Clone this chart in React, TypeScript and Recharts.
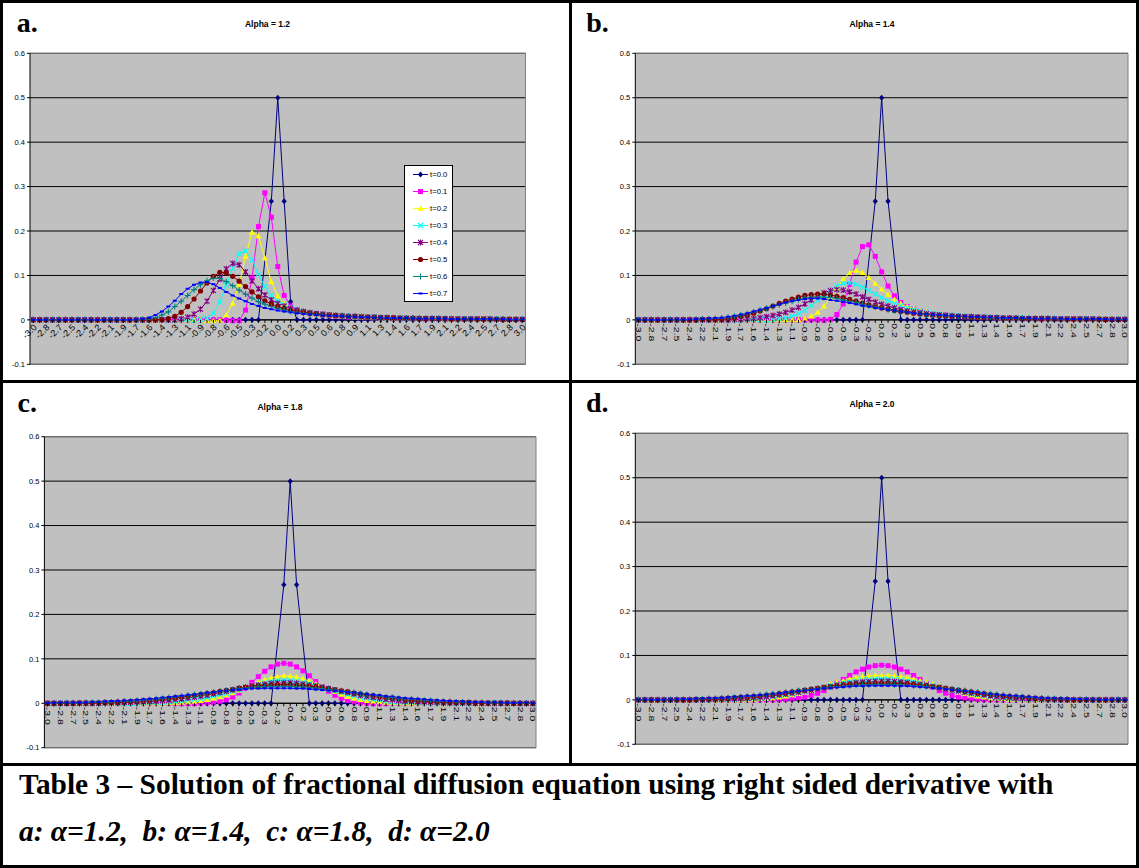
import React from 'react';
import { LineChart, Line, XAxis, YAxis, CartesianGrid, ReferenceLine, Legend } from 'recharts';

const SANS = 'Liberation Sans, Arial, sans-serif';
const SERIF = 'Liberation Serif, Times New Roman, serif';

const xCategories = [
  '-3.0','-2.9','-2.8','-2.8','-2.7','-2.6','-2.5','-2.4','-2.4','-2.3','-2.2',
  '-2.1','-2.1','-2.0','-1.9','-1.8','-1.7','-1.7','-1.6','-1.5','-1.4','-1.3',
  '-1.3','-1.2','-1.1','-1.0','-0.9','-0.9','-0.8','-0.7','-0.6','-0.6','-0.5',
  '-0.4','-0.3','-0.2','-0.2','-0.1','0.0','0.1','0.2','0.2','0.3','0.4',
  '0.5','0.6','0.6','0.7','0.8','0.9','0.9','1.0','1.1','1.2','1.3',
  '1.3','1.4','1.5','1.6','1.7','1.7','1.8','1.9','2.0','2.1','2.1',
  '2.2','2.3','2.4','2.4','2.5','2.6','2.7','2.8','2.8','2.9','3.0',
];
const yTicks = [-0.1, 0, 0.1, 0.2, 0.3, 0.4, 0.5, 0.6];
const seriesNames = ['t=0.0', 't=0.1', 't=0.2', 't=0.3', 't=0.4', 't=0.5', 't=0.6', 't=0.7'];
const seriesColors = ['#000080', '#FF00FF', '#FFFF00', '#00FFFF', '#800080', '#800000', '#008080', '#0000FF'];
const markerKinds = ['diamond', 'square', 'triangle', 'x', 'star', 'circle', 'plus', 'dash'];

// ---------- Alpha = 1.2 ----------
const a12_t00 = [
  0,0,0,0,0,0,0,0,0,0,0,
  0,0,0,0,0,0,0,0,0,0,0,
  0,0,0,0,0,0,0,0,0,0,0,
  0,0,0,null,0.267,0.5,0.267,0.041,0,0,0,
  0,0,0,0,0,0,0,0,0,0,0,
  0,0,0,0,0,0,0,0,0,0,0,
  0,0,0,0,0,0,0,0,0,0,0,
];
const a12_t01 = [
  0,0,0,0,0,0,0,0,0,0,0,
  0,0,0,0,0,0,0,0,0,0,0,
  0,0,0,0,0,0,0,0,-0.001,-0.002,-0.002,
  0.022,0.094,0.21,0.286,0.231,0.12,0.055,0.031,0.022,0.017,0.014,
  0.012,0.01,0.009,0.008,0.007,0.006,0.006,0.005,0.005,0.004,0.004,
  0.004,0.003,0.003,0.003,0.003,0.003,0.002,0.002,0.002,0.002,0.002,
  0.002,0.002,0.002,0.002,0.001,0.001,0.001,0.001,0.001,0.001,0.001,
];
const a12_t02 = [
  0,0,0,0,0,0,0,0,0,0,0,
  0,0,0,0,0,0,0,0,0,0,0,
  0,0,0,0,0,-0.002,-0.002,-0.001,0.011,0.037,0.079,
  0.143,0.197,0.189,0.139,0.086,0.054,0.036,0.027,0.021,0.017,0.014,
  0.012,0.011,0.01,0.009,0.008,0.007,0.006,0.006,0.005,0.005,0.004,
  0.004,0.004,0.003,0.003,0.003,0.003,0.003,0.002,0.002,0.002,0.002,
  0.002,0.002,0.002,0.002,0.002,0.001,0.001,0.001,0.001,0.001,0.001,
];
const a12_t03 = [
  0,0,0,0,0,0,0,0,0,0,0,
  0,0,0,0,0,0,0,0,0,0,0,
  0,0,0,-0.001,0.001,0.004,0.015,0.04,0.078,0.116,0.149,
  0.155,0.135,0.103,0.075,0.055,0.042,0.034,0.028,0.023,0.019,0.016,
  0.014,0.012,0.011,0.01,0.009,0.008,0.007,0.006,0.006,0.005,0.005,
  0.004,0.004,0.004,0.003,0.003,0.003,0.003,0.003,0.002,0.002,0.002,
  0.002,0.002,0.002,0.002,0.002,0.001,0.001,0.001,0.001,0.001,0.001,
];
const a12_t04 = [
  0,0,0,0,0,0,0,0,0,0,0,
  0,0,0,0,0,0,0,0,0,0,0,
  0,0.002,0.006,0.013,0.024,0.042,0.066,0.092,0.115,0.127,0.124,
  0.108,0.088,0.07,0.056,0.045,0.037,0.031,0.026,0.022,0.019,0.016,
  0.014,0.013,0.011,0.01,0.009,0.008,0.008,0.007,0.006,0.006,0.005,
  0.005,0.004,0.004,0.004,0.003,0.003,0.003,0.003,0.003,0.002,0.002,
  0.002,0.002,0.002,0.002,0.002,0.002,0.001,0.001,0.001,0.001,0.001,
];
const a12_t05 = [
  0,0,0,0,0,0,0,0,0,0,0,
  0,0,0,0,0,0,0,0,0,0.001,0.003,
  0.008,0.017,0.03,0.047,0.065,0.083,0.098,0.107,0.106,0.098,0.087,
  0.075,0.063,0.052,0.043,0.036,0.03,0.026,0.022,0.019,0.017,0.015,
  0.014,0.012,0.011,0.01,0.009,0.008,0.008,0.007,0.006,0.006,0.005,
  0.005,0.005,0.004,0.004,0.004,0.003,0.003,0.003,0.003,0.003,0.002,
  0.002,0.002,0.002,0.002,0.002,0.002,0.002,0.001,0.001,0.001,0.001,
];
const a12_t06 = [
  0,0,0,0,0,0,0,0,0,0,0,
  0,0,0,0,0,0,0.001,0.002,0.005,0.011,0.018,
  0.03,0.042,0.055,0.068,0.079,0.088,0.094,0.093,0.086,0.077,0.067,
  0.058,0.049,0.041,0.035,0.03,0.026,0.022,0.019,0.017,0.015,0.013,
  0.012,0.011,0.01,0.009,0.009,0.008,0.007,0.007,0.006,0.006,0.005,
  0.005,0.005,0.004,0.004,0.004,0.004,0.003,0.003,0.003,0.003,0.003,
  0.002,0.002,0.002,0.002,0.002,0.002,0.002,0.002,0.001,0.001,0.001,
];
const a12_t07 = [
  0,0,0,0,0,0,0,0,0,0,0,
  0,0,0,0,0,0.001,0.002,0.005,0.011,0.019,0.03,
  0.043,0.058,0.07,0.079,0.084,0.085,0.08,0.072,0.063,0.055,0.048,
  0.042,0.036,0.031,0.027,0.024,0.021,0.019,0.017,0.015,0.013,0.012,
  0.011,0.01,0.009,0.009,0.008,0.007,0.007,0.006,0.006,0.005,0.005,
  0.004,0.004,0.004,0.004,0.003,0.003,0.003,0.003,0.003,0.003,0.002,
  0.002,0.002,0.002,0.002,0.002,0.002,0.002,0.002,0.001,0.001,0.001,
];

// ---------- Alpha = 1.4 ----------
const a14_t00 = [
  0,0,0,0,0,0,0,0,0,0,0,
  0,0,0,0,0,0,0,0,0,0,0,
  0,0,0,0,0,0,0,0,0,0,0,
  0,0,0,null,0.267,0.5,0.267,null,0,0,0,
  0,0,0,0,0,0,0,0,0,0,0,
  0,0,0,0,0,0,0,0,0,0,0,
  0,0,0,0,0,0,0,0,0,0,0,
];
const a14_t01 = [
  0,0,0,0,0,0,0,0,0,0,0,
  0,0,0,0,0,0,0,0,0,0,0,
  0,0,0,0,0,0,0,-0.001,0.001,0.012,0.036,
  0.08,0.13,0.165,0.169,0.143,0.108,0.076,0.054,0.039,0.03,0.024,
  0.02,0.017,0.014,0.012,0.011,0.009,0.008,0.007,0.007,0.006,0.005,
  0.005,0.004,0.004,0.004,0.003,0.003,0.003,0.003,0.002,0.002,0.002,
  0.002,0.002,0.002,0.002,0.001,0.001,0.001,0.001,0.001,0.001,0.001,
];
const a14_t02 = [
  0,0,0,0,0,0,0,0,0,0,0,
  0,0,0,0,0,0,0,0,0,0,0,
  0,0,0,0,0.003,0.008,0.017,0.031,0.05,0.072,0.092,
  0.106,0.111,0.106,0.095,0.082,0.069,0.057,0.046,0.037,0.03,0.025,
  0.021,0.018,0.015,0.013,0.011,0.01,0.009,0.008,0.007,0.006,0.006,
  0.005,0.005,0.004,0.004,0.004,0.003,0.003,0.003,0.003,0.002,0.002,
  0.002,0.002,0.002,0.002,0.002,0.001,0.001,0.001,0.001,0.001,0.001,
];
const a14_t03 = [
  0,0,0,0,0,0,0,0,0,0,0,
  0,0,0,0,0,0,0,0,0,0,0.001,
  0.002,0.004,0.008,0.014,0.022,0.032,0.044,0.056,0.067,0.076,0.082,
  0.083,0.08,0.074,0.066,0.058,0.05,0.043,0.037,0.032,0.027,0.023,
  0.02,0.017,0.015,0.013,0.011,0.01,0.009,0.008,0.007,0.007,0.006,
  0.005,0.005,0.005,0.004,0.004,0.004,0.003,0.003,0.003,0.003,0.002,
  0.002,0.002,0.002,0.002,0.002,0.002,0.001,0.001,0.001,0.001,0.001,
];
const a14_t04 = [
  0,0,0,0,0,0,0,0,0,0,0,
  0,0,0,0,0.001,0.001,0.002,0.003,0.005,0.007,0.01,
  0.013,0.017,0.022,0.028,0.036,0.045,0.054,0.061,0.066,0.068,0.067,
  0.063,0.058,0.052,0.046,0.04,0.035,0.031,0.027,0.023,0.02,0.018,
  0.016,0.014,0.012,0.011,0.01,0.009,0.008,0.007,0.007,0.006,0.006,
  0.005,0.005,0.004,0.004,0.004,0.003,0.003,0.003,0.003,0.003,0.002,
  0.002,0.002,0.002,0.002,0.002,0.002,0.001,0.001,0.001,0.001,0.001,
];
const a14_t05 = [
  0,0,0,0,0,0,0,0,0,0,0.001,
  0.001,0.001,0.002,0.003,0.005,0.008,0.011,0.015,0.02,0.025,0.031,
  0.037,0.042,0.047,0.051,0.055,0.057,0.058,0.058,0.056,0.053,0.05,
  0.046,0.042,0.038,0.034,0.03,0.027,0.024,0.021,0.019,0.017,0.015,
  0.013,0.012,0.011,0.01,0.009,0.008,0.008,0.007,0.006,0.006,0.005,
  0.005,0.005,0.004,0.004,0.004,0.003,0.003,0.003,0.003,0.003,0.002,
  0.002,0.002,0.002,0.002,0.002,0.002,0.002,0.001,0.001,0.001,0.001,
];
const a14_t06 = [
  0,0,0,0,0,0,0,0,0.001,0.001,0.002,
  0.002,0.003,0.004,0.006,0.008,0.011,0.014,0.018,0.022,0.026,0.03,
  0.034,0.038,0.042,0.046,0.049,0.051,0.052,0.051,0.05,0.048,0.045,
  0.042,0.039,0.035,0.032,0.029,0.026,0.023,0.021,0.019,0.017,0.015,
  0.013,0.012,0.011,0.01,0.009,0.009,0.008,0.007,0.007,0.006,0.006,
  0.005,0.005,0.004,0.004,0.004,0.004,0.003,0.003,0.003,0.003,0.003,
  0.002,0.002,0.002,0.002,0.002,0.002,0.002,0.002,0.001,0.001,0.001,
];
const a14_t07 = [
  0,0,0,0,0,0,0.001,0.001,0.001,0.002,0.002,
  0.003,0.004,0.005,0.007,0.009,0.012,0.015,0.019,0.023,0.027,0.031,
  0.035,0.039,0.042,0.045,0.047,0.048,0.048,0.047,0.045,0.043,0.041,
  0.038,0.035,0.032,0.03,0.027,0.025,0.023,0.021,0.019,0.017,0.015,
  0.014,0.013,0.012,0.011,0.01,0.009,0.008,0.008,0.007,0.007,0.006,
  0.006,0.005,0.005,0.005,0.004,0.004,0.004,0.003,0.003,0.003,0.003,
  0.003,0.002,0.002,0.002,0.002,0.002,0.002,0.002,0.001,0.001,0.001,
];

// ---------- Alpha = 1.8 ----------
const a18_t00 = [
  0,0,0,0,0,0,0,0,0,0,0,
  0,0,0,0,0,0,0,0,0,0,0,
  0,0,0,0,0,0,0,0,0,0,0,
  0,0,0,null,0.267,0.5,0.267,null,0,0,0,
  0,0,0,0,0,0,0,0,0,0,0,
  0,0,0,0,0,0,0,0,0,0,0,
  0,0,0,0,0,0,0,0,0,0,0,
];
const a18_t01 = [
  0,0,0,0,0,0,0,0,0,0,0,
  0,0,0,0,0,0,0,0,0,-0.001,-0.001,
  -0.001,-0.001,0,0.001,0.002,0.004,0.008,0.014,0.023,0.034,0.047,
  0.06,0.072,0.082,0.088,0.09,0.088,0.082,0.073,0.062,0.049,0.037,
  0.027,0.018,0.011,0.006,0.003,0.001,0,-0.001,-0.001,-0.001,0,
  0,0,0,0,0,0,0,0,0,0,0,
  0,0,0,0,0,0,0,0,0,0,0,
];
const a18_t02 = [
  0,0,0,0,0,0,0,0,0,0,0,
  0,0,0,0,0,0,0,0,0.001,0.001,0.002,
  0.003,0.004,0.006,0.008,0.011,0.014,0.018,0.023,0.029,0.035,0.041,
  0.047,0.053,0.057,0.06,0.062,0.061,0.059,0.055,0.05,0.044,0.038,
  0.032,0.026,0.02,0.015,0.011,0.008,0.006,0.004,0.003,0.002,0.001,
  0.001,0,0,0,0,0,0,0,0,0,0,
  0,0,0,0,0,0,0,0,0,0,0,
];
const a18_t03 = [
  0,0,0,0,0,0,0,0,0,0,0,
  0,0,0,0,0.001,0.001,0.002,0.002,0.003,0.004,0.005,
  0.007,0.008,0.01,0.013,0.016,0.019,0.022,0.026,0.03,0.034,0.038,
  0.042,0.046,0.049,0.051,0.052,0.051,0.05,0.047,0.044,0.04,0.036,
  0.032,0.028,0.024,0.02,0.016,0.013,0.011,0.009,0.007,0.005,0.004,
  0.003,0.002,0.002,0.001,0.001,0.001,0,0,0,0,0,
  0,0,0,0,0,0,0,0,0,0,0,
];
const a18_t04 = [
  0,0,0,0,0,0,0,0,0,0.001,0.001,
  0.001,0.002,0.002,0.003,0.003,0.004,0.005,0.006,0.007,0.009,0.01,
  0.012,0.014,0.016,0.018,0.021,0.024,0.027,0.03,0.033,0.036,0.039,
  0.041,0.043,0.045,0.046,0.046,0.046,0.045,0.043,0.041,0.039,0.036,
  0.033,0.03,0.027,0.024,0.021,0.018,0.015,0.013,0.011,0.009,0.008,
  0.006,0.005,0.004,0.003,0.003,0.002,0.002,0.001,0.001,0.001,0.001,
  0.001,0,0,0,0,0,0,0,0,0,0,
];
const a18_t05 = [
  0,0,0,0,0,0.001,0.001,0.001,0.001,0.002,0.002,
  0.003,0.003,0.004,0.005,0.006,0.007,0.008,0.009,0.011,0.012,0.014,
  0.016,0.018,0.02,0.022,0.024,0.027,0.029,0.031,0.034,0.036,0.038,
  0.039,0.04,0.041,0.042,0.042,0.042,0.041,0.04,0.038,0.037,0.035,
  0.033,0.031,0.028,0.026,0.023,0.021,0.019,0.017,0.015,0.013,0.011,
  0.01,0.008,0.007,0.006,0.005,0.004,0.004,0.003,0.003,0.002,0.002,
  0.002,0.001,0.001,0.001,0.001,0.001,0.001,0,0,0,0,
];
const a18_t06 = [
  0,0,0,0.001,0.001,0.001,0.002,0.002,0.002,0.003,0.003,
  0.004,0.005,0.005,0.006,0.007,0.008,0.01,0.011,0.013,0.014,0.016,
  0.018,0.02,0.021,0.023,0.025,0.027,0.029,0.031,0.033,0.034,0.036,
  0.037,0.037,0.038,0.038,0.038,0.038,0.037,0.037,0.036,0.034,0.033,
  0.031,0.03,0.028,0.026,0.024,0.022,0.02,0.018,0.016,0.014,0.013,
  0.011,0.01,0.009,0.008,0.007,0.006,0.005,0.004,0.004,0.003,0.003,
  0.002,0.002,0.002,0.001,0.001,0.001,0.001,0.001,0,0,0,
];
const a18_t07 = [
  0,0.001,0.001,0.001,0.002,0.002,0.002,0.003,0.003,0.004,0.005,
  0.005,0.006,0.007,0.008,0.009,0.01,0.011,0.013,0.014,0.016,0.017,
  0.019,0.02,0.022,0.024,0.025,0.027,0.028,0.03,0.031,0.032,0.033,
  0.033,0.034,0.034,0.034,0.034,0.034,0.033,0.033,0.032,0.031,0.03,
  0.029,0.028,0.027,0.025,0.024,0.022,0.021,0.019,0.018,0.016,0.015,
  0.013,0.012,0.011,0.01,0.009,0.008,0.007,0.006,0.005,0.005,0.004,
  0.003,0.003,0.003,0.002,0.002,0.002,0.001,0.001,0.001,0.001,0,
];

// ---------- Alpha = 2.0 ----------
const a20_t00 = [
  0,0,0,0,0,0,0,0,0,0,0,
  0,0,0,0,0,0,0,0,0,0,0,
  0,0,0,0,0,0,0,0,0,0,0,
  0,0,0,null,0.267,0.5,0.267,null,0,0,0,
  0,0,0,0,0,0,0,0,0,0,0,
  0,0,0,0,0,0,0,0,0,0,0,
  0,0,0,0,0,0,0,0,0,0,0,
];
const a20_t01 = [
  0,0,0,0,0,0,0,0,0,0,0,
  0,0,0,0,0,0,0,0,0,0,0,
  0,0.001,0.002,0.004,0.006,0.01,0.015,0.021,0.029,0.037,0.046,
  0.055,0.063,0.069,0.074,0.077,0.078,0.077,0.074,0.069,0.063,0.055,
  0.046,0.037,0.029,0.021,0.015,0.01,0.006,0.004,0.002,0.001,0,
  0,0,0,0,0,0,0,0,0,0,0,
  0,0,0,0,0,0,0,0,0,0,0,
];
const a20_t02 = [
  0,0,0,0,0,0,0,0,0,0,0,
  0,0,0,0,0,0,0.001,0.001,0.002,0.003,0.004,
  0.006,0.008,0.011,0.014,0.018,0.022,0.026,0.031,0.035,0.039,0.043,
  0.047,0.05,0.052,0.054,0.055,0.055,0.055,0.054,0.052,0.05,0.047,
  0.043,0.039,0.035,0.031,0.026,0.022,0.018,0.014,0.011,0.008,0.006,
  0.004,0.003,0.002,0.001,0.001,0,0,0,0,0,0,
  0,0,0,0,0,0,0,0,0,0,0,
];
const a20_t03 = [
  0,0,0,0,0,0,0,0,0,0,0,
  0,0,0,0.001,0.001,0.002,0.002,0.003,0.004,0.005,0.007,
  0.009,0.011,0.013,0.016,0.019,0.022,0.025,0.029,0.032,0.035,0.038,
  0.041,0.043,0.045,0.046,0.047,0.047,0.047,0.046,0.045,0.043,0.041,
  0.038,0.035,0.032,0.029,0.025,0.022,0.019,0.016,0.013,0.011,0.009,
  0.007,0.005,0.004,0.003,0.002,0.002,0.001,0.001,0,0,0,
  0,0,0,0,0,0,0,0,0,0,0,
];
const a20_t04 = [
  0,0,0,0,0,0,0,0,0,0,0,
  0.001,0.001,0.001,0.002,0.002,0.003,0.004,0.005,0.006,0.007,0.009,
  0.011,0.013,0.015,0.017,0.02,0.022,0.025,0.028,0.03,0.033,0.035,
  0.037,0.039,0.04,0.041,0.042,0.042,0.042,0.041,0.04,0.039,0.037,
  0.035,0.033,0.03,0.028,0.025,0.022,0.02,0.017,0.015,0.013,0.011,
  0.009,0.007,0.006,0.005,0.004,0.003,0.002,0.002,0.001,0.001,0.001,
  0,0,0,0,0,0,0,0,0,0,0,
];
const a20_t05 = [
  0,0,0,0,0,0,0,0,0,0.001,0.001,
  0.002,0.002,0.003,0.004,0.005,0.006,0.007,0.008,0.009,0.011,0.012,
  0.014,0.016,0.018,0.02,0.022,0.024,0.026,0.028,0.03,0.032,0.033,
  0.035,0.036,0.037,0.037,0.038,0.038,0.038,0.037,0.037,0.036,0.035,
  0.033,0.032,0.03,0.028,0.026,0.024,0.022,0.02,0.018,0.016,0.014,
  0.012,0.011,0.009,0.008,0.007,0.006,0.005,0.004,0.003,0.002,0.002,
  0.001,0.001,0,0,0,0,0,0,0,0,0,
];
const a20_t06 = [
  0,0,0,0,0,0,0.001,0.001,0.001,0.002,0.002,
  0.003,0.003,0.004,0.005,0.006,0.007,0.008,0.009,0.011,0.012,0.014,
  0.015,0.017,0.019,0.021,0.022,0.024,0.026,0.027,0.029,0.03,0.031,
  0.032,0.033,0.034,0.034,0.035,0.035,0.035,0.034,0.034,0.033,0.032,
  0.031,0.03,0.029,0.027,0.026,0.024,0.022,0.021,0.019,0.017,0.015,
  0.014,0.012,0.011,0.009,0.008,0.007,0.006,0.005,0.004,0.003,0.003,
  0.002,0.002,0.001,0.001,0.001,0,0,0,0,0,0,
];
const a20_t07 = [
  0,0.001,0.001,0.001,0.001,0.001,0.002,0.002,0.002,0.003,0.003,
  0.004,0.004,0.005,0.006,0.007,0.008,0.009,0.01,0.011,0.012,0.014,
  0.015,0.017,0.018,0.02,0.021,0.023,0.024,0.026,0.027,0.028,0.029,
  0.03,0.031,0.031,0.032,0.032,0.032,0.032,0.032,0.031,0.031,0.03,
  0.029,0.028,0.027,0.026,0.024,0.023,0.021,0.02,0.018,0.017,0.015,
  0.014,0.012,0.011,0.01,0.009,0.008,0.007,0.006,0.005,0.004,0.004,
  0.003,0.003,0.002,0.002,0.002,0.001,0.001,0.001,0.001,0.001,0,
];

const Y_MIN = -0.1;
const Y_MAX = 0.6;
const X_AXIS_H = 1;

type Val = number | null;

const buildRows = (series: Val[][]) =>
  xCategories.map((x, i) => {
    const row: Record<string, any> = { i, x };
    series.forEach((s, k) => {
      row['s' + k] = s[i];
    });
    return row;
  });

function Marker({ cx, cy, kind, color }: any) {
  if (cx == null || cy == null || Number.isNaN(cx) || Number.isNaN(cy)) return null;
  switch (kind) {
    case 'diamond':
      return <path d={`M${cx} ${cy - 3}L${cx + 2.6} ${cy}L${cx} ${cy + 3}L${cx - 2.6} ${cy}Z`} fill={color} />;
    case 'square':
      return <rect x={cx - 2.5} y={cy - 2.5} width={5} height={5} fill={color} />;
    case 'triangle':
      return <path d={`M${cx} ${cy - 3}L${cx + 3} ${cy + 2.3}L${cx - 3} ${cy + 2.3}Z`} fill={color} />;
    case 'x':
      return (
        <path
          d={`M${cx - 2.5} ${cy - 2.5}L${cx + 2.5} ${cy + 2.5}M${cx - 2.5} ${cy + 2.5}L${cx + 2.5} ${cy - 2.5}`}
          stroke={color}
          strokeWidth={1.1}
          fill="none"
        />
      );
    case 'star':
      return (
        <path
          d={`M${cx - 2.5} ${cy - 2.5}L${cx + 2.5} ${cy + 2.5}M${cx - 2.5} ${cy + 2.5}L${cx + 2.5} ${cy - 2.5}M${cx} ${cy - 3}L${cx} ${cy + 3}`}
          stroke={color}
          strokeWidth={1.1}
          fill="none"
        />
      );
    case 'circle':
      return <circle cx={cx} cy={cy} r={2.6} fill={color} />;
    case 'plus':
      return (
        <path d={`M${cx - 3} ${cy}L${cx + 3} ${cy}M${cx} ${cy - 3}L${cx} ${cy + 3}`} stroke={color} strokeWidth={1.1} fill="none" />
      );
    default:
      return <path d={`M${cx - 2} ${cy}L${cx + 2} ${cy}`} stroke={color} strokeWidth={2} fill="none" />;
  }
}

const renderDot = (k: number) => (p: any) => (
  <g key={`dot-${k}-${p.index}`}>
    <Marker cx={p.cx} cy={p.cy} kind={markerKinds[k]} color={seriesColors[k]} />
  </g>
);

function XTick(props: any) {
  const { x, y, payload, index, zeroShift, rotate } = props;
  const y0 = y - zeroShift;
  const idx = payload && typeof payload.value === 'number' ? payload.value : index;
  const label = xCategories[idx];
  let text = null;
  if (idx % 2 === 0) {
    if (rotate === -45) {
      const ax = x + 2;
      const ay = y0 + 6;
      text = (
        <text x={0} y={0} transform={`translate(${ax} ${ay}) rotate(-45) scale(1.15 1.1)`} textAnchor="end" dominantBaseline="central"
          fontSize={8} fontFamily={SANS} fill="#000">{label}</text>
      );
    } else {
      const ax = x;
      const ay = y0 + 3.5;
      text = (
        <text x={0} y={0} transform={`translate(${ax} ${ay}) rotate(90) scale(1.4 1)`} textAnchor="start" dominantBaseline="central"
          fontSize={7.5} fontFamily={SANS} fill="#000">{label}</text>
      );
    }
  }
  return (
    <g>
      <line x1={x} x2={x} y1={y0} y2={y0 + 3} stroke="#000" strokeWidth={1} />
      {text}
    </g>
  );
}

const LegendBox = () => (
  <div style={{ width: 49, height: 137, border: '1px solid #000', background: '#fff', boxSizing: 'border-box' }}>
    {seriesNames.map((n, k) => (
      <div key={n} style={{ height: 17, display: 'flex', alignItems: 'center' }}>
        <svg width={24} height={17} style={{ display: 'block' }}>
          <line x1={8} x2={23} y1={8.5} y2={8.5} stroke={seriesColors[k]} strokeWidth={1} />
          <Marker cx={15.5} cy={8.5} kind={markerKinds[k]} color={seriesColors[k]} />
        </svg>
        <span style={{ fontSize: 7.7, fontFamily: SANS, color: '#000', marginLeft: 1, lineHeight: '17px' }}>{n}</span>
      </div>
    ))}
  </div>
);

const fmtY = (v: number) => (v === 0 ? '0' : v.toFixed(1));

type PanelCfg = {
  left: number;
  top: number;
  width: number;
  height: number;
  margin: { top: number; right: number; bottom: number; left: number };
  rotate: number;
  series: Val[][];
  legend?: boolean;
};

const panels: PanelCfg[] = [
  {
    left: 0, top: 0, width: 570, height: 380,
    margin: { top: 53.3, right: 44.5, bottom: 14.7, left: 0 },
    rotate: -45, legend: true,
    series: [a12_t00, a12_t01, a12_t02, a12_t03, a12_t04, a12_t05, a12_t06, a12_t07],
  },
  {
    left: 570, top: 0, width: 569, height: 380,
    margin: { top: 53.3, right: 11, bottom: 14.7, left: 35.3 },
    rotate: 90,
    series: [a14_t00, a14_t01, a14_t02, a14_t03, a14_t04, a14_t05, a14_t06, a14_t07],
  },
  {
    left: 0, top: 380, width: 570, height: 384,
    margin: { top: 56.7, right: 34, bottom: 15.3, left: 14.4 },
    rotate: 90,
    series: [a18_t00, a18_t01, a18_t02, a18_t03, a18_t04, a18_t05, a18_t06, a18_t07],
  },
  {
    left: 570, top: 380, width: 569, height: 384,
    margin: { top: 53.3, right: 11, bottom: 18.7, left: 35.3 },
    rotate: 90,
    series: [a20_t00, a20_t01, a20_t02, a20_t03, a20_t04, a20_t05, a20_t06, a20_t07],
  },
];

const titles = [
  { text: 'Alpha = 1.2', x: 267.5, y: 27 },
  { text: 'Alpha = 1.4', x: 872, y: 27 },
  { text: 'Alpha = 1.8', x: 280, y: 410 },
  { text: 'Alpha = 2.0', x: 872, y: 407 },
];
const letters = [
  { text: 'a.', x: 16.7, y: 31.7 },
  { text: 'b.', x: 586.3, y: 31.7 },
  { text: 'c.', x: 17.5, y: 411.7 },
  { text: 'd.', x: 586, y: 411.7 },
];
const captionLine1 = 'Table 3 \u2013 Solution of fractional diffusion equation using right sided derivative with';
const captionLine2 = 'a: \u03b1=1.2,  b: \u03b1=1.4,  c: \u03b1=1.8,  d: \u03b1=2.0';

// grey frame of the plot area on the right and top (Excel style)
const rightEdge = ({ offset }: any) => [offset.left + offset.width];
const topEdge = ({ offset }: any) => [offset.top];

function Panel({ cfg }: { cfg: PanelCfg }) {
  const data = buildRows(cfg.series);
  const plotH = cfg.height - cfg.margin.top - cfg.margin.bottom - X_AXIS_H;
  const zeroShift = (plotH * (0 - Y_MIN)) / (Y_MAX - Y_MIN);
  return (
    <div style={{ position: 'absolute', left: cfg.left, top: cfg.top, width: cfg.width, height: cfg.height }}>
      <LineChart width={cfg.width} height={cfg.height} data={data} margin={cfg.margin}>
        <CartesianGrid vertical={false} stroke="#000" strokeWidth={1} fill="#C0C0C0" fillOpacity={1} />
        <CartesianGrid
          stroke="#808080"
          strokeWidth={1}
          verticalCoordinatesGenerator={rightEdge}
          horizontalCoordinatesGenerator={topEdge}
        />
        <XAxis
          dataKey="i"
          type="category"
          scale="point"
          padding={{ left: 3.2, right: 3.2 }}
          interval={0}
          height={X_AXIS_H}
          tickSize={0}
          tickMargin={0}
          axisLine={{ stroke: '#808080' }}
          tickLine={false}
          tick={(p: any) => <XTick {...p} zeroShift={zeroShift} rotate={cfg.rotate} />}
        />
        <YAxis
          type="number"
          domain={[Y_MIN, Y_MAX]}
          ticks={yTicks}
          interval={0}
          allowDataOverflow
          width={30}
          tickSize={3}
          tickMargin={2}
          tickFormatter={fmtY}
          axisLine={{ stroke: '#000' }}
          tickLine={{ stroke: '#000' }}
          tick={{ fontSize: 7.5, fill: '#000', fontFamily: SANS }}
        />
        <ReferenceLine y={0} stroke="#000" strokeWidth={1} />
        {seriesNames.map((n, k) => (
          <Line
            key={n}
            type="linear"
            dataKey={'s' + k}
            name={n}
            stroke={seriesColors[k]}
            strokeWidth={1}
            dot={renderDot(k)}
            activeDot={false}
            connectNulls
            isAnimationActive={false}
          />
        ))}
        {cfg.legend && (
          <Legend
            layout="vertical"
            align="center"
            verticalAlign="middle"
            content={() => <LegendBox />}
            wrapperStyle={{ left: 404, top: 165, width: 49, height: 137 }}
          />
        )}
      </LineChart>
    </div>
  );
}

export default function App() {
  return (
    <div style={{ position: 'absolute', left: 0, top: 0, width: 1139, height: 868, background: '#fff', overflow: 'hidden' }}>
      {panels.map((p, i) => (
        <Panel key={i} cfg={p} />
      ))}
      <svg width={1139} height={868} style={{ position: 'absolute', left: 0, top: 0, pointerEvents: 'none' }}>
        <rect x={0} y={0} width={1139} height={3} fill="#000" />
        <rect x={0} y={0} width={3} height={868} fill="#000" />
        <rect x={1136} y={0} width={3} height={868} fill="#000" />
        <rect x={0} y={865} width={1139} height={3} fill="#000" />
        <rect x={569} y={0} width={3} height={765} fill="#000" />
        <rect x={0} y={380} width={1139} height={3} fill="#000" />
        <rect x={0} y={763} width={1139} height={3} fill="#000" />
        {letters.map((l) => (
          <text key={l.text} x={l.x} y={l.y} fontFamily={SERIF} fontWeight="bold" fontSize={28} fill="#000">
            {l.text}
          </text>
        ))}
        {titles.map((t) => (
          <text key={t.text} x={t.x} y={t.y} textAnchor="middle" fontFamily={SANS} fontWeight="bold" fontSize={8.5} fill="#000">
            {t.text}
          </text>
        ))}
        <text x={19} y={794} fontFamily={SERIF} fontWeight="bold" fontSize={29.4} fill="#000" style={{ whiteSpace: 'pre' }}>
          {captionLine1}
        </text>
        <text x={19} y={841} fontFamily={SERIF} fontWeight="bold" fontStyle="italic" fontSize={29.4} fill="#000" style={{ whiteSpace: 'pre' }}>
          {captionLine2}
        </text>
      </svg>
    </div>
  );
}
